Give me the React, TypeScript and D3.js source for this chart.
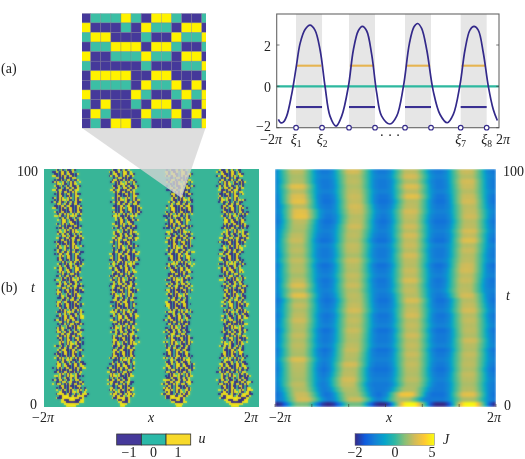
import React from "react";
import * as d3 from "d3";

const PI = Math.PI;
const FONT = "Liberation Serif, Times New Roman, Times, serif";

// ---- inset: discrete states read from the zoomed patch
const insetRows = [
  "BTTTYTBYYTBBT",
  "YBBBTBYTTBYYB",
  "TYYBBBTBBYTTY",
  "BTTYYYBYYTBBT",
  "YBBTTTYTTBYYB",
  "TBBBBBTBBBTTY",
  "BYYYYBBYYBBBT",
  "BTTTTBYTTYBYB",
  "YBBBBYTBBTYTY",
  "TBYBBTBYYBTBY",
  "BYTBBBYTTYBYB",
  "BTBYYBTBBTBTY",
];
// ---- fine weave seen inside the active bands at full-panel scale
const uWeave = [
  "YBTYBBTYBT",
  "BYYBTYBBYT",
  "TBYYBTYYBB",
  "BTBYBYTBYY",
  "YBTBYBBTBY",
  "BYBTBYYBTB",
  "TYBYTBYBYT",
  "YTYBBTBYBY",
];
const uRowShift = [0, 5, 2, 9, 7, 3, 1, 6, 4, 8];
const chevronShift = [0, 1, 2, 3, 2, 1];
const arcStripes = "YBY";
const arcDepth = [3, 5, 11, 4];

// ---- (a) potential curve
const curveX = [-6.19,-6.06,-5.91,-5.72,-5.44,-5.19,-4.96,-4.68,-4.4,-4.12,-3.83,-3.55,-3.27,-2.93,-2.61,-2.23,-1.95,-1.67,-1.44,-1.2,-0.91,-0.63,-0.35,0.12,0.5,0.88,1.22,1.48,1.69,1.91,2.2,2.57,2.95,3.36,3.7,4.08,4.36,4.64,4.87,5.11,5.4,5.68,5.96,6.19];
const curveY = [-1.6,-1.76,-1.73,-1.44,-0.4,0.88,2.08,2.75,2.96,2.72,1.76,0,-1.44,-1.92,-1.44,0,1.76,2.69,2.9,2.69,1.52,-0.32,-1.44,-1.82,-1.44,0,2.08,2.88,3.04,2.8,1.76,-0.24,-1.36,-1.76,-1.36,0.08,1.76,2.72,2.9,2.72,1.6,0,-1.12,-1.65];
const xi = [-5.19,-3.72,-2.195,-0.725,0.971,2.44,4.117,5.586];

// ---- (b) left: band edges of the active regions
const tList = [100,89,85,78,70,64,58,51,45,36,26,18,11,5,0];
const uBand1L = [-5.7,-5.7,-5.76,-5.47,-5.58,-5.58,-5.52,-5.58,-5.52,-5.52,-5.52,-5.64,-5.7,-5.47,-5.41];
const uBand1R = [-4.35,-4.18,-4,-4.18,-4.06,-4.12,-4.12,-4.06,-4.06,-4.06,-4.06,-4,-4.06,-3.83,-3.89];
const uBand2L = [-2.48,-2.25,-2.25,-2.19,-2.25,-2.43,-2.37,-2.43,-2.31,-2.31,-2.31,-2.43,-2.6,-2.31,-2.02];
const uBand2R = [-1.14,-0.79,-0.67,-0.85,-0.96,-0.79,-0.91,-0.96,-0.96,-0.91,-0.85,-1.08,-1.14,-1.14,-1.08];
const uBand3L = [0.79,1.08,0.91,0.79,0.91,0.91,0.91,0.91,0.85,0.85,0.79,0.79,0.79,0.32,0.91];
const uBand3R = [2.25,2.37,2.43,2.25,2.37,2.37,2.31,2.25,2.25,2.25,2.25,2.37,2.37,2.43,2.43];
const uBand4L = [3.89,3.89,4,4.18,4.06,4,4,4.12,4.18,4.18,4.12,4,3.89,4,4.18];
const uBand4R = [5.35,5.35,5.47,5.58,5.58,5.29,5.35,5.47,5.58,5.52,5.47,5.47,5.76,5.76,5.76];
const edgeJitter = [0.1,-0.08,0.04,-0.12,0.14,0,-0.06,0.12,-0.1,0.06,-0.14,0.08,0.02];

// ---- (b) right: band centres and stripe levels of J
const tJ = [100,87,81,70,49,45,28,15,9,3,0];
const jCentre1 = [-5.05,-4.96,-4.81,-5.05,-4.96,-4.86,-4.96,-4.96,-4.96,-4.67,-4.77];
const jCentre2 = [-1.83,-1.74,-1.64,-1.83,-1.83,-1.74,-1.83,-2.02,-2.11,-1.74,-1.74];
const jCentre3 = [1.39,1.49,1.39,1.39,1.39,1.49,1.49,1.49,1.49,1.01,1.58];
const jCentre4 = [4.61,4.71,4.8,4.74,4.52,4.71,4.8,4.71,4.71,4.71,4.8];
const jLevel1 = [2.2,1.9,2,3,2.2,2.8,3.1,2.2,3,3.2,2.2,2,1.9,2.2,2.4,2,2.2,1.9,2.3,2,2.1,1.8,2.2,2.8,2,3,1.9,2.3,2,2.2,2.5,2.1,2,2.3,2,2.2,2,1.9,2.8,2.2,2.1,2,1.9,2.2,2,2.4,2.6,1.2];
const jLevel2 = [2.6,2.1,2.2,2,2.2,2.4,2.3,2.6,2.4,2.1,2.2,2.5,2.1,2.2,2,2.3,2.2,1.9,2.4,2.1,2,2.3,2.1,2.4,2,2.2,2.1,2.3,2.6,2.1,2.3,2.1,2.4,2.1,2,2.2,2.4,2.1,2,2.6,2.1,2.2,2.6,2.3,2,1.9,2.4,1];
const jLevel3 = [2.2,2.6,2,2.8,2.2,3,2.1,2.2,2.6,2.3,2.1,2.5,2.1,2.6,2.2,2.4,2.1,2.6,2.2,2.1,2.4,2.2,2.7,2.1,2.3,2.1,2.7,2.1,2.3,2.6,2.1,2.3,2.1,2.5,2.1,2.3,2.1,2.4,2.1,2.3,2.1,2,2.2,1.9,2,3.4,2,5];
const jLevel4 = [2.4,2.1,2.6,2.4,2.1,2.4,2.6,2.2,2.3,2.5,2.1,2.2,2.7,2.3,2.9,2.1,2.4,2.1,2.2,2.5,2.6,2.2,2.4,2.1,2.2,2.6,2.1,2.3,2.6,2.1,2.3,2.1,2.2,2,2.5,2.1,2,2.3,2.1,2.2,2,2.3,2.1,1.9,2.1,3,2,5];
const jBase = [-1.1,-1,-1.1,-1.1,-1,-1.15,-1.2,-1.1,-1,-1.1,-1.2,-1.1,-1,-1.1,-1.2,-1,-1.1,-1.1,-1,-1.2,-1.1,-1,-1.15,-1.1,-1,-1.1,-1.2,-1.1,-1,-1.15,-1.1,-1,-1.2,-1.1,-1.1,-1,-1.2,-1.1,-1,-1.1,-1.2,-1.1,-1,-1.1,-1.1,-1.2,-1.1,-2];
const jProfileDist = [0,0.32,0.55,0.85,1.15,1.45];
const jProfileWeight = [1,0.96,0.66,0.3,0.07,0];

// ---- colours
const parulaStops = ["#352a87","#0f5cdd","#1481d6","#06a4ca","#2eb7a4","#87bf77","#d1bb59","#fec832","#f9fb0e"];
const uBlue = "#2f2588";
const uTeal = "#38b597";
const uYellow = "#f5e616";

// ---- colourbar tick labels
const uBarTicks = [-1, 0, 1];
const jBarTicks = [-2, 0, 5];

const parula = d3.scaleLinear<string>().domain(parulaStops.map((_, i) => i / 8)).range(parulaStops).interpolate(d3.interpolateRgb);
const jNorm = d3.scaleLinear().domain([-2, 0, 5]).range([0, 0.5, 1]).clamp(true);

const xL = d3.scaleLinear().domain([-2 * PI, 2 * PI]).range([44, 259]);
const xR = d3.scaleLinear().domain([-2 * PI, 2 * PI]).range([275, 496]);
const xA = d3.scaleLinear().domain([-2 * PI, 2 * PI]).range([276.7, 499]);
const yA = d3.scaleLinear().domain([-2, 3.5]).range([127.7, 14]);

const pairs = [[uBand1L, uBand1R], [uBand2L, uBand2R], [uBand3L, uBand3R], [uBand4L, uBand4R]].map(([a, b]) => [
  d3.scaleLinear().domain(tList).range(a),
  d3.scaleLinear().domain(tList).range(b),
]);

const T = ({ x, y, a = "middle", s = 14, i = false, children }: any) => (
  <text x={x} y={y} textAnchor={a} fontSize={s} fontStyle={i ? "italic" : "normal"} fontFamily={FONT} fill="#222">{children}</text>
);
const Pi = () => <tspan fontStyle="italic">π</tspan>;

function uCells() {
  const nR = 119, nC = 130;
  const dx = 215 / nC, dy = 238 / nR;
  const out: any[] = [];
  const col: any = { B: uBlue, Y: uYellow };
  for (let r = 0; r < nR; r++) {
    const t = 100 - ((r + 0.5) / nR) * 100;
    const jit = edgeJitter[r % edgeJitter.length];
    const jit2 = edgeJitter[(r * 5 + 3) % edgeJitter.length];
    pairs.forEach(([l, rr], b) => {
      const lo = l(t) + jit, hi = rr(t) + jit2;
      const mid = (lo + hi) / 2, half = (hi - lo) / 2;
      const block = Math.floor(r / 8);
      const shift = uRowShift[(block + b * 3) % uRowShift.length] + b * 3 + chevronShift[r % chevronShift.length];
      for (let c = 0; c < nC; c++) {
        const xd = xL.invert(44 + (c + 0.5) * dx);
        if (xd < lo || xd > hi) continue;
        let ch = uWeave[r % uWeave.length][(c + shift) % 10];
        const u = Math.abs(xd - mid) / half;
        const dist = t - arcDepth[b] * u * u;
        if (dist < 0) continue;
        const si = Math.floor(dist / 1.4);
        if (si < arcStripes.length) ch = arcStripes[si];
        if (ch === "T") continue;
        out.push(<rect key={r + "-" + c} x={44 + c * dx} y={169 + r * dy} width={dx + 0.3} height={dy + 0.3} fill={col[ch]} />);
      }
    });
  }
  return out;
}

function jCells() {
  const nR = jLevel1.length, nC = 110;
  const dx = 221 / nC, dy = 238 / nR;
  const centres = [jCentre1, jCentre2, jCentre3, jCentre4].map((c) => d3.scaleLinear().domain(tJ).range(c));
  const levels = [jLevel1, jLevel2, jLevel3, jLevel4];
  const w = d3.scaleLinear().domain(jProfileDist).range(jProfileWeight).clamp(true);
  const out: any[] = [];
  for (let r = 0; r < nR; r++) {
    const t = 100 - ((r + 0.5) / nR) * 100;
    for (let c = 0; c < nC; c++) {
      const xd = xR.invert(275 + (c + 0.5) * dx);
      let best = 0, lev = 0;
      centres.forEach((cf, b) => {
        const we = w(Math.abs(xd - cf(t)));
        if (we > best) { best = we; lev = levels[b][r]; }
      });
      const v = jBase[r] + best * (lev - jBase[r]);
      out.push(<rect key={r + "-" + c} x={275 + c * dx} y={169 + r * dy} width={dx + 0.3} height={dy + 0.3} fill={parula(jNorm(v))} />);
    }
  }
  return out;
}

function Inset() {
  const x0 = 80.57, w = 10.1, y0 = 13.3, h = 9.58;
  const col: any = { B: "#45399a", T: "#3cbfa5", Y: "#fff200" };
  return (
    <g clipPath="url(#insetClip)">
      {insetRows.map((row, r) =>
        row.split("").map((ch, c) => (
          <rect key={r + "-" + c} x={x0 + c * w} y={y0 + r * h} width={w} height={h} fill={col[ch]} stroke="#7d7d8a" strokeOpacity={0.5} strokeWidth={0.6} />
        ))
      )}
    </g>
  );
}

export default function App() {
  const line = d3.line<number>().x((_, i) => xA(curveX[i])).y((d) => yA(d)).curve(d3.curveCatmullRom);
  const bandPairs = d3.range(0, 8, 2).map((i) => [xi[i], xi[i + 1]]);
  const jBarX = d3.scaleLinear().domain([-2, 0, 5]).range([355, 395, 432]);
  return (
    <svg width={525} height={459} style={{ position: "absolute", left: 0, top: 0 }}>
      <defs>
        <clipPath id="insetClip"><rect x={82} y={13.3} width={124} height={115} /></clipPath>
        <filter id="bu" filterUnits="userSpaceOnUse" x="30" y="155" width="245" height="265" colorInterpolationFilters="sRGB">
          <feGaussianBlur in="SourceGraphic" stdDeviation="0.9" result="b" />
          <feComposite in="SourceGraphic" in2="b" operator="arithmetic" k1="0" k2="0.45" k3="0.55" k4="0" />
        </filter>
        <filter id="bj" filterUnits="userSpaceOnUse" x="260" y="155" width="250" height="265" colorInterpolationFilters="sRGB"><feGaussianBlur stdDeviation="1 0.9" /></filter>
        <filter id="soft" filterUnits="userSpaceOnUse" x="0" y="0" width="525" height="459" colorInterpolationFilters="sRGB"><feGaussianBlur stdDeviation="0.35" /></filter>
        <clipPath id="leftClip"><rect x={44} y={169} width={215} height={238} /></clipPath>
        <clipPath id="rightClip"><rect x={275} y={169} width={221} height={238} /></clipPath>
        <linearGradient id="jGrad" x1="0" x2="1" y1="0" y2="0">
          {parulaStops.map((c, i) => <stop key={i} offset={i / 8} stopColor={c} />)}
        </linearGradient>
      </defs>
      <rect width={525} height={459} fill="#fff" />

      <g clipPath="url(#leftClip)">
        <g filter="url(#bu)">
          <rect x={30} y={155} width={245} height={265} fill={uTeal} />
          <g shapeRendering="crispEdges">{uCells()}</g>
        </g>
      </g>
      <g clipPath="url(#rightClip)">
        <g filter="url(#bj)" shapeRendering="crispEdges">{jCells()}</g>
      </g>
      {d3.range(-6, 7, 2).map((k) => (
        <line key={k} x1={xR((k * PI) / 3)} x2={xR((k * PI) / 3)} y1={407} y2={404} stroke="#333" strokeWidth={0.6} />
      ))}

      <polygon points="82,128 205.5,128 181.5,198" fill="rgb(213,213,213)" fillOpacity={0.79} />
      <Inset />

      <g filter="url(#soft)">
        {/* (a) */}
        {bandPairs.map(([a, b], i) => (
          <rect key={i} x={xA(a)} y={14} width={xA(b) - xA(a)} height={113.7} fill="#e6e6e6" />
        ))}
        <line x1={xA.range()[0]} x2={xA.range()[1]} y1={yA(0)} y2={yA(0)} stroke="#2db89f" strokeWidth={2.2} />
        {bandPairs.map(([a, b], i) => (
          <g key={i}>
            <line x1={xA(a) + 0.8} x2={xA(b) - 0.8} y1={yA(1)} y2={yA(1)} stroke="#e6b450" strokeWidth={2.1} />
            <line x1={xA(a)} x2={xA(b)} y1={yA(-1)} y2={yA(-1)} stroke="#3a3092" strokeWidth={2.1} />
          </g>
        ))}
        <path d={line(curveY) || ""} fill="none" stroke="#33298a" strokeWidth={1.7} />
        <rect x={276.7} y={14} width={222.3} height={113.7} fill="none" stroke="#666" strokeWidth={1.1} />
        {[-2, 0, 2].map((v) => (
          <g key={v}>
            <line x1={276.7} x2={279.5} y1={yA(v)} y2={yA(v)} stroke="#444" strokeWidth={0.7} />
            <line x1={496.2} x2={499} y1={yA(v)} y2={yA(v)} stroke="#444" strokeWidth={0.7} />
          </g>
        ))}
        {xi.map((v, i) => (
          <circle key={i} cx={xA(v)} cy={127.7} r={2.3} fill="#fff" stroke="#33298a" strokeWidth={1.1} />
        ))}
        <T x={271} y={50.5} a="end">2</T>
        <T x={271} y={91.5} a="end">0</T>
        <T x={271} y={131} a="end">−2</T>
        <T x={271} y={144}>−2<Pi /></T>
        <T x={xA(xi[0])} y={144} i>ξ<tspan dy={2.5} fontSize={9.5} fontStyle="normal">1</tspan></T>
        <T x={xA(xi[1])} y={144} i>ξ<tspan dy={2.5} fontSize={9.5} fontStyle="normal">2</tspan></T>
        <T x={390} y={140}>· · ·</T>
        <T x={xA(xi[6])} y={144} i>ξ<tspan dy={2.5} fontSize={9.5} fontStyle="normal">7</tspan></T>
        <T x={xA(xi[7])} y={144} i>ξ<tspan dy={2.5} fontSize={9.5} fontStyle="normal">8</tspan></T>
        <T x={503} y={144}>2<Pi /></T>

        <T x={1} y={73} a="start">(a)</T>
        <T x={1} y={292} a="start">(b)</T>

        {/* (b) left labels */}
        <T x={38} y={176} a="end">100</T>
        <T x={33} y={292} i>t</T>
        <T x={37} y={409} a="end">0</T>
        <T x={43} y={422}>−2<Pi /></T>
        <T x={151} y={422} i>x</T>
        <T x={251} y={422}>2<Pi /></T>

        {/* (b) right labels */}
        <T x={503} y={176} a="start">100</T>
        <T x={508} y={300} i>t</T>
        <T x={504} y={410} a="start">0</T>
        <T x={280} y={422}>−2<Pi /></T>
        <T x={389} y={422} i>x</T>
        <T x={494} y={422}>2<Pi /></T>

        {/* u colourbar */}
        {["#45399a", "#2bb9a8", "#f7d92a"].map((c, i) => (
          <rect key={i} x={116.7 + (i * 74) / 3} y={434} width={74 / 3} height={11} fill={c} stroke="#333" strokeWidth={0.8} />
        ))}
        {uBarTicks.map((v) => (
          <T key={v} x={d3.scaleLinear().domain([-1, 1]).range([129, 178])(v)} y={457}>{v < 0 ? "−" + -v : v}</T>
        ))}
        <T x={202} y={443} i>u</T>

        {/* J colourbar */}
        <rect x={355} y={433.5} width={79.3} height={12} fill="url(#jGrad)" stroke="#777" strokeWidth={0.5} />
        {jBarTicks.map((v) => (
          <T key={v} x={jBarX(v)} y={457}>{v < 0 ? "−" + -v : v}</T>
        ))}
        <T x={446} y={444} i>J</T>
      </g>
    </svg>
  );
}
